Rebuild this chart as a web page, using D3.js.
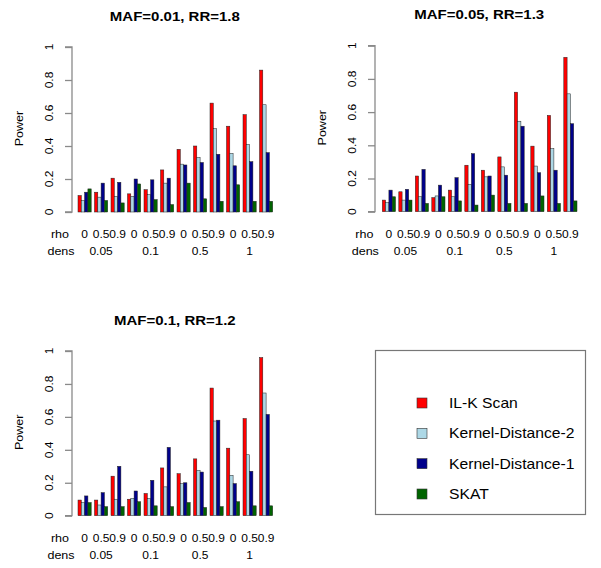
<!DOCTYPE html>
<html><head><meta charset="utf-8">
<script src="https://cdn.jsdelivr.net/npm/d3@7"></script>
<style>html,body{margin:0;padding:0;background:#fff;}svg{display:block;}</style>
</head><body>
<script>
const seriesNames = ["IL-K Scan","Kernel-Distance-2","Kernel-Distance-1","SKAT"];
const seriesColors = ["#ff0000","#add8e6","#00008b","#006400"];
const rhoLabels = ["0","0.5","0.9","0","0.5","0.9","0","0.5","0.9","0","0.5","0.9"];
const densLabels = ["0.05","0.1","0.5","1"];
const yTicks = [0,0.2,0.4,0.6,0.8,1];
const yTickLabels = ["0","0.2","0.4","0.6","0.8","1"];
const titles = ["MAF=0.01, RR=1.8","MAF=0.05, RR=1.3","MAF=0.1, RR=1.2"];

// Panel 1: MAF=0.01, RR=1.8
const ilk1  = [0.10,0.12,0.205,0.11,0.135,0.255,0.38,0.40,0.66,0.52,0.59,0.86];
const kd2_1 = [0.07,0.09,0.095,0.095,0.105,0.175,0.29,0.33,0.505,0.355,0.41,0.65];
const kd1_1 = [0.12,0.175,0.18,0.20,0.195,0.205,0.285,0.30,0.35,0.28,0.305,0.36];
const skat1 = [0.14,0.07,0.055,0.17,0.075,0.045,0.175,0.08,0.065,0.165,0.065,0.065];
// Panel 2: MAF=0.05, RR=1.3
const ilk2  = [0.07,0.12,0.215,0.085,0.13,0.28,0.25,0.33,0.72,0.395,0.58,0.93];
const kd2_2 = [0.055,0.07,0.09,0.095,0.09,0.165,0.21,0.27,0.545,0.275,0.38,0.71];
const kd1_2 = [0.13,0.135,0.255,0.16,0.205,0.35,0.215,0.22,0.515,0.235,0.25,0.53];
const skat2 = [0.09,0.07,0.05,0.09,0.065,0.04,0.10,0.05,0.05,0.095,0.05,0.065];
// Panel 3: MAF=0.1, RR=1.2
const ilk3  = [0.095,0.095,0.24,0.10,0.135,0.29,0.255,0.345,0.775,0.41,0.59,0.96];
const kd2_3 = [0.08,0.065,0.10,0.105,0.105,0.175,0.195,0.275,0.575,0.245,0.37,0.745];
const kd1_3 = [0.12,0.14,0.30,0.15,0.215,0.415,0.20,0.265,0.58,0.195,0.27,0.615];
const skat3 = [0.08,0.055,0.055,0.085,0.06,0.055,0.08,0.05,0.055,0.085,0.06,0.06];

const panelData = [
  [ilk1,kd2_1,kd1_1,skat1],
  [ilk2,kd2_2,kd1_2,skat2],
  [ilk3,kd2_3,kd1_3,skat3]
];

const W = 601, H = 568;
const FONT = "'Liberation Sans', Arial, sans-serif";
const SX = 1.09;
const svg = d3.select("body").append("svg").attr("width",W).attr("height",H);

function txt(g, x, y, s, opts) {
  const t = g.append("text")
    .attr("transform", `translate(${x},${y}) ${opts.rot?`rotate(${opts.rot})`:""} scale(${opts.sx||SX},1)`)
    .attr("font-family", FONT)
    .attr("font-size", opts.size||11)
    .attr("font-weight", opts.bold?"bold":"normal")
    .attr("text-anchor", opts.anchor||"middle")
    .attr("fill", "#000")
    .text(s);
  return t;
}

const layouts = [
  {x0:78, x1:272.7, y0:212, y1:47, axisX:72},
  {x0:382.3, x1:577, y0:211.7, y1:45.7, axisX:375},
  {x0:78, x1:272.7, y0:515.7, y1:351, axisX:72}
];

const groupIdx = d3.range(12);

panelData.forEach((series, p) => {
  const L = layouts[p];
  const g = svg.append("g");
  const x = d3.scaleBand().domain(groupIdx).range([L.x0, L.x1]).paddingInner(0.2).paddingOuter(0);
  const xs = d3.scaleBand().domain(d3.range(4)).range([0, x.bandwidth()]).padding(0);
  const y = d3.scaleLinear().domain([0,1]).range([L.y0, L.y1]);

  // bars
  series.forEach((vals, s) => {
    g.append("g").selectAll("rect").data(vals).join("rect")
      .attr("x", (d,i) => x(i) + xs(s))
      .attr("y", d => y(d))
      .attr("width", xs.bandwidth())
      .attr("height", d => y(0) - y(d))
      .attr("fill", seriesColors[s])
      .attr("stroke", "#222")
      .attr("stroke-width", 0.5);
  });

  // y axis
  const ax = g.append("g").attr("transform", `translate(${L.axisX},0)`)
    .call(d3.axisLeft(y).tickValues(yTicks).tickSize(7).tickFormat(() => ""));
  ax.select(".domain").attr("stroke","#8a8a8a").attr("stroke-width",1.3).attr("d", `M-7,${y(0)}H0V${y(1)}H-7`);
  ax.selectAll(".tick line").attr("stroke","#8a8a8a").attr("stroke-width",1.3);
  yTicks.forEach((t,i) => {
    txt(g, L.axisX - 19, y(t), yTickLabels[i], {rot:-90, size:11});
  });
  // Power label
  txt(g, L.axisX - 49, (y(0)+y(1))/2 - 1, "Power", {rot:-90, size:11.5});

  // title
  txt(g, (L.x0 + L.x1)/2 - 0.5, y(1) - 26.5, titles[p], {bold:true, size:12.5, sx:1.2});

  // x labels
  const by = y(0) + 26;
  txt(g, L.x0 - 18, by, "rho", {size:11.5});
  txt(g, L.x0 - 17, by + 17, "dens", {size:11.5});
  groupIdx.forEach(i => {
    txt(g, x(i) + x.bandwidth()/2, by, rhoLabels[i], {size:11});
  });
  densLabels.forEach((d,k) => {
    txt(g, x(3*k+1) + x.bandwidth()/2, by + 17, d, {size:11});
  });
});

// legend
const lg = svg.append("g");
lg.append("rect").attr("x",375.5).attr("y",350.5).attr("width",210).attr("height",164)
  .attr("fill","none").attr("stroke","#777").attr("stroke-width",1.2);
const ly = d3.scalePoint().domain(seriesNames).range([403, 494]);
seriesNames.forEach((n,i) => {
  lg.append("rect").attr("x",417).attr("y",ly(n)-5).attr("width",10).attr("height",10)
    .attr("fill",seriesColors[i]).attr("stroke","#333").attr("stroke-width",0.6);
  txt(lg, 449, ly(n)+5, n, {anchor:"start", size:14, sx:1.12});
});
</script>
</body></html>
